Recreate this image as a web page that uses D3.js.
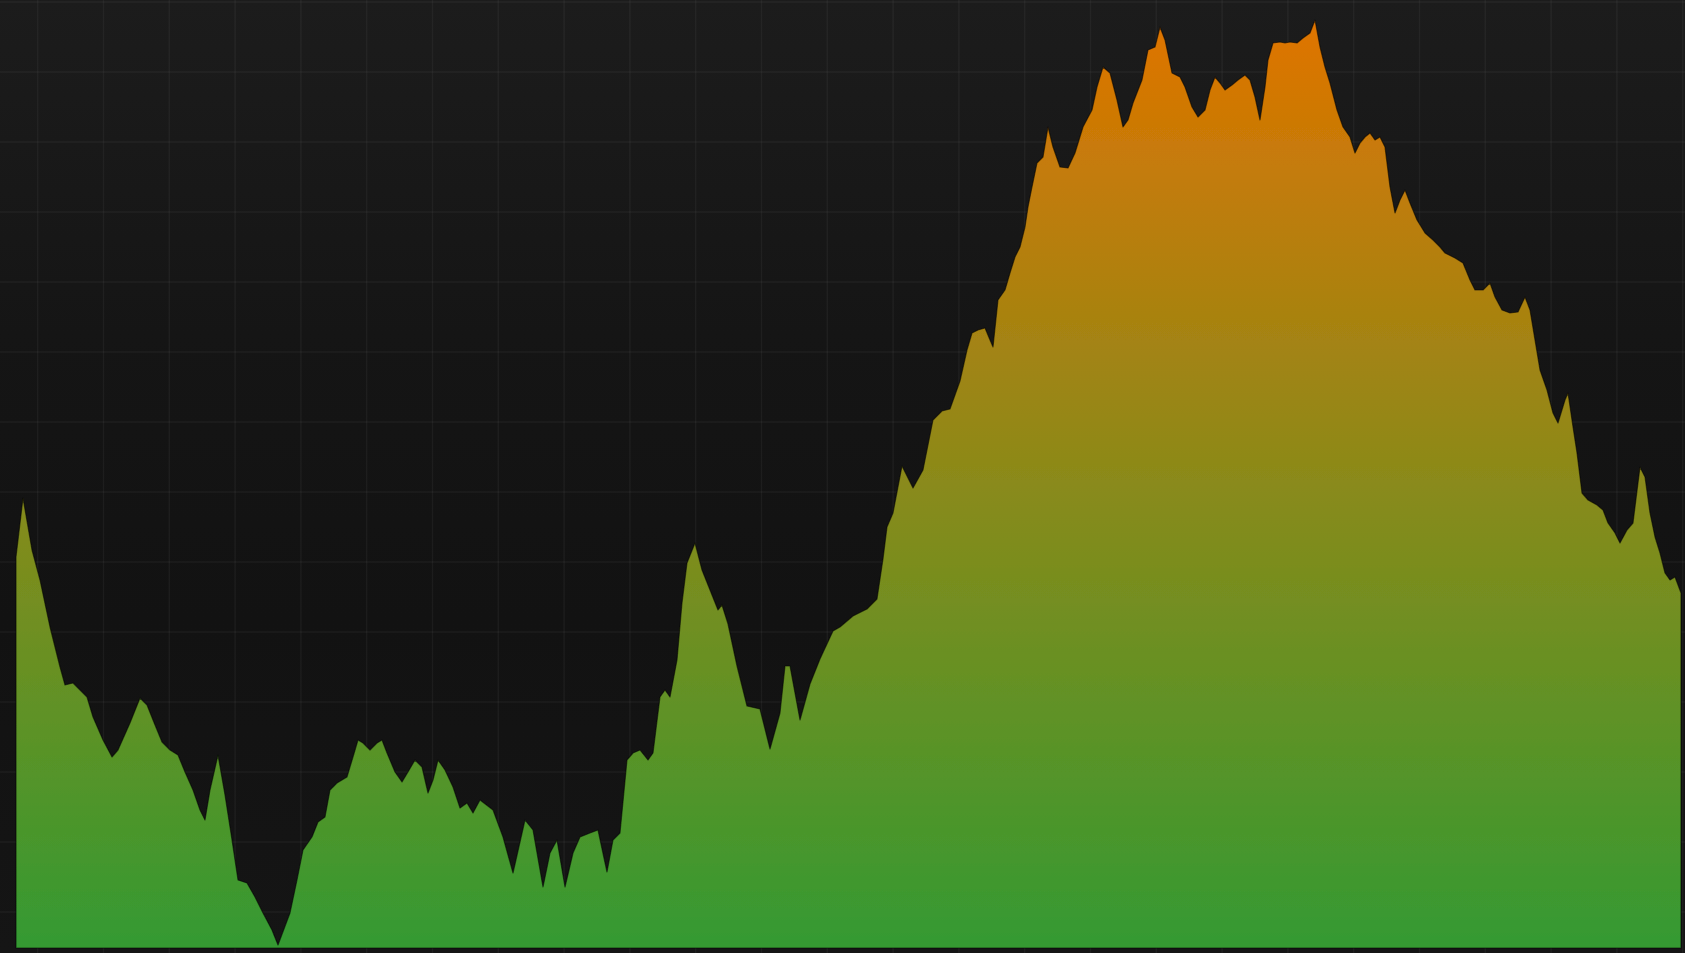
<!DOCTYPE html>
<html>
<head>
<meta charset="utf-8">
<script src="https://cdn.jsdelivr.net/npm/d3@7"></script>
<style>
html, body { margin: 0; padding: 0; background: #161616; overflow: hidden; }
svg { display: block; }
</style>
</head>
<body>
<svg></svg>
<script>
const width = 1685;
const height = 953;

// sample position (step) and value
const steps = [
  0, 1.4, 3.2, 4.8, 6.8, 8.8, 9.8, 11.4, 12.2, 14.2, 15.4, 17.4, 19.2, 20.4, 22.8, 24.8, 26.2, 27.8, 29.2, 30.8,
  32.4, 33.8, 35.4, 36.8, 37.8, 38.8, 40.4, 41.8, 43.2, 44.4, 46.2, 47.8, 49.4, 51.2, 52.4, 54.8, 56.2, 57.4, 59.2, 60.4,
  61.8, 62.8, 64.2, 66.2, 67.4, 68.4, 69.4, 70.8, 72.2, 73.2, 74.2, 75.8, 77.2, 78.4, 79.8, 81.2, 82.4, 83.4, 84.4, 85.8,
  87.4, 88.8, 90.2, 91.4, 92.8, 95.4, 97.4, 99.4, 101.8, 103.4, 105.4, 106.8, 108.2, 109.8, 111.4, 112.8, 114.8, 116.4, 118.2, 119.4,
  120.8, 122.2, 123.4, 124.8, 126.4, 127.4, 128.8, 129.8, 130.8, 132.2, 133.2, 134.2, 135.8, 137.2, 138.8, 140.4, 141.2, 142.4, 144.2, 146.2,
  148.8, 150.8, 152.8, 153.8, 154.8, 156.8, 158.8, 160.8, 163.4, 164.8, 167.4, 170.2, 172.2, 173.4, 174.2, 175.4, 177.2, 179.4, 181.4, 183.4,
  185.2, 186.8, 188.8, 190.2, 191.2, 192.4, 193.8, 194.8, 195.4, 196.4, 197.8, 198.8, 199.8, 200.8, 201.8, 202.4, 203.2, 204.2, 205.4, 206.4,
  207.4, 208.8, 210.4, 211.8, 213.4, 215.2, 216.2, 217.4, 218.8, 220.2, 221.4, 222.4, 223.4, 225.2, 226.4, 227.8, 228.8, 229.8, 231.2, 232.8,
  233.8, 235.2, 236.4, 237.8, 238.8, 239.8, 240.8, 241.8, 243.2, 244.4, 245.8, 246.8, 247.8, 248.8, 249.8, 250.4, 251.4, 252.8, 253.8, 254.8,
  256.2, 257.4, 258.8, 259.8, 260.8, 261.8, 262.8, 264.2, 265.4, 266.8, 267.8, 268.8, 269.8, 270.8, 271.8, 272.8, 273.8, 274.8, 275.8, 276.8,
  277.8, 278.8, 280.2, 281.8, 283.4, 284.8, 285.8, 287.8, 289.4, 290.8, 291.8, 293.4, 294.8, 295.8, 297.2, 298.8, 300.4, 301.8, 302.8, 303.8,
  304.8, 306.2, 307.4, 308.4, 309.8, 310.4, 311.4, 312.2, 313.2, 314.4, 316.2, 317.4, 318.4, 319.8, 320.8, 322.2, 323.4, 324.8, 325.8, 326.8,
  327.8, 328.8, 329.8, 330.8, 331.8, 333
];
const values = [
  39.1, 45.0, 39.8, 36.8, 32.1, 28.1, 26.3, 26.5, 26.1, 25.1, 23.1, 20.8, 19.1, 19.8, 22.5, 25.0, 24.3, 22.3, 20.6, 19.8,
  19.3, 17.6, 15.8, 13.8, 12.8, 15.8, 19.3, 15.3, 10.8, 6.8, 6.5, 5.1, 3.5, 1.8, 0.3, 3.5, 6.8, 9.8, 11.1, 12.6,
  13.1, 15.8, 16.5, 17.1, 19.1, 20.8, 20.5, 19.8, 20.5, 20.8, 19.5, 17.6, 16.6, 17.6, 18.8, 18.1, 15.5, 16.8, 18.8, 17.8,
  16.1, 14.0, 14.5, 13.5, 14.8, 13.8, 11.1, 7.5, 12.8, 11.8, 6.1, 9.5, 10.8, 6.1, 9.5, 11.1, 11.5, 11.8, 7.6, 10.8,
  11.5, 18.8, 19.5, 19.8, 18.8, 19.5, 25.1, 25.8, 25.1, 28.8, 34.5, 38.5, 40.5, 37.8, 35.8, 33.8, 34.3, 32.4, 28.2, 24.2,
  23.9, 19.9, 23.5, 28.2, 28.2, 22.8, 26.4, 28.9, 31.7, 32.1, 33.2, 33.9, 34.9, 38.9, 42.1, 43.5, 48.2, 46.0, 47.8, 52.8,
  53.7, 53.9, 56.7, 59.8, 61.5, 61.8, 62.0, 60.8, 60.1, 64.8, 65.8, 67.5, 69.1, 70.1, 72.1, 74.1, 76.1, 78.5, 79.1, 82.1,
  80.1, 78.1, 78.0, 79.5, 82.1, 83.8, 86.1, 88.1, 87.5, 84.8, 82.1, 82.8, 84.5, 86.8, 89.8, 90.1, 92.1, 90.8, 87.5, 87.1,
  86.1, 84.1, 83.1, 83.8, 85.8, 87.1, 86.5, 85.8, 86.3, 86.8, 87.3, 86.8, 85.1, 82.8, 86.1, 88.8, 90.5, 90.6, 90.5, 90.6,
  90.5, 91.0, 91.5, 92.8, 90.1, 88.1, 86.5, 83.8, 82.1, 81.1, 79.5, 80.5, 81.1, 81.5, 80.8, 81.1, 80.1, 76.1, 73.5, 74.8,
  75.8, 74.5, 72.8, 71.5, 70.8, 70.1, 69.5, 69.0, 68.5, 66.8, 65.8, 65.8, 66.5, 65.1, 63.8, 63.5, 63.6, 65.1, 63.8, 60.8,
  57.8, 55.8, 53.5, 52.5, 54.8, 55.5, 52.1, 49.5, 45.5, 44.8, 44.3, 43.8, 42.5, 41.5, 40.5, 41.8, 42.5, 48.1, 47.1, 43.5,
  41.1, 39.5, 37.5, 36.8, 37.1, 35.5
];

// background grid cells
const gridCols = 26;
const gridRows = 14;

const data = steps.map((s, i) => ({ step: s, value: values[i] }));

const svg = d3.select("svg")
    .attr("width", width)
    .attr("height", height);

const defs = svg.append("defs");

// dark vignette, a little lighter at the top
const bg = defs.append("linearGradient")
    .attr("id", "bg")
    .attr("x1", 0).attr("y1", 0).attr("x2", 0).attr("y2", 1);
bg.append("stop").attr("offset", "0%").attr("stop-color", "#1c1c1c");
bg.append("stop").attr("offset", "35%").attr("stop-color", "#151515");
bg.append("stop").attr("offset", "65%").attr("stop-color", "#121212");
bg.append("stop").attr("offset", "100%").attr("stop-color", "#151515");

// the source looks a bit soft, so blur the edges slightly
defs.append("filter")
    .attr("id", "soft")
    .append("feGaussianBlur")
    .attr("stdDeviation", 0.6);

svg.append("rect")
    .attr("width", width)
    .attr("height", height)
    .attr("fill", "url(#bg)");

// grid
const gx = d3.scaleLinear().domain([0, gridCols - 1]).range([37.7, 1682.7]);
const gy = d3.scaleLinear().domain([0, gridRows - 1]).range([2, 912]);

svg.append("g")
    .selectAll("line")
    .data(d3.range(gridCols))
    .join("line")
    .attr("x1", d => gx(d)).attr("x2", d => gx(d))
    .attr("y1", 0).attr("y2", height)
    .attr("stroke", "#ffffff")
    .attr("stroke-opacity", 0.045)
    .attr("stroke-width", 1.5);

svg.append("g")
    .selectAll("line")
    .data(d3.range(gridRows))
    .join("line")
    .attr("y1", d => gy(d)).attr("y2", d => gy(d))
    .attr("x1", 0).attr("x2", width)
    .attr("stroke", "#ffffff")
    .attr("stroke-opacity", 0.045)
    .attr("stroke-width", 1.5);

// scales
const x = d3.scaleLinear().domain([0, 333]).range([16, 1681]);
const y = d3.scaleLinear().domain([0, 94.6]).range([948, 2]);

// green at the bottom to orange at the top
const fill = defs.append("linearGradient")
    .attr("id", "fill")
    .attr("gradientUnits", "userSpaceOnUse")
    .attr("x1", 0).attr("x2", 0)
    .attr("y1", y(0)).attr("y2", y(93));
fill.append("stop").attr("offset", "0%").attr("stop-color", "#349a32");
fill.append("stop").attr("offset", "50%").attr("stop-color", "#8a8a1a");
fill.append("stop").attr("offset", "100%").attr("stop-color", "#e07400");

const area = d3.area()
    .x(d => x(d.step))
    .y0(y(0))
    .y1(d => y(d.value));

svg.append("path")
    .datum(data)
    .attr("d", area)
    .attr("fill", "url(#fill)")
    .attr("stroke", "#000")
    .attr("stroke-opacity", 0.55)
    .attr("stroke-width", 1.2)
    .attr("stroke-linejoin", "round")
    .attr("filter", "url(#soft)");
</script>
</body>
</html>
